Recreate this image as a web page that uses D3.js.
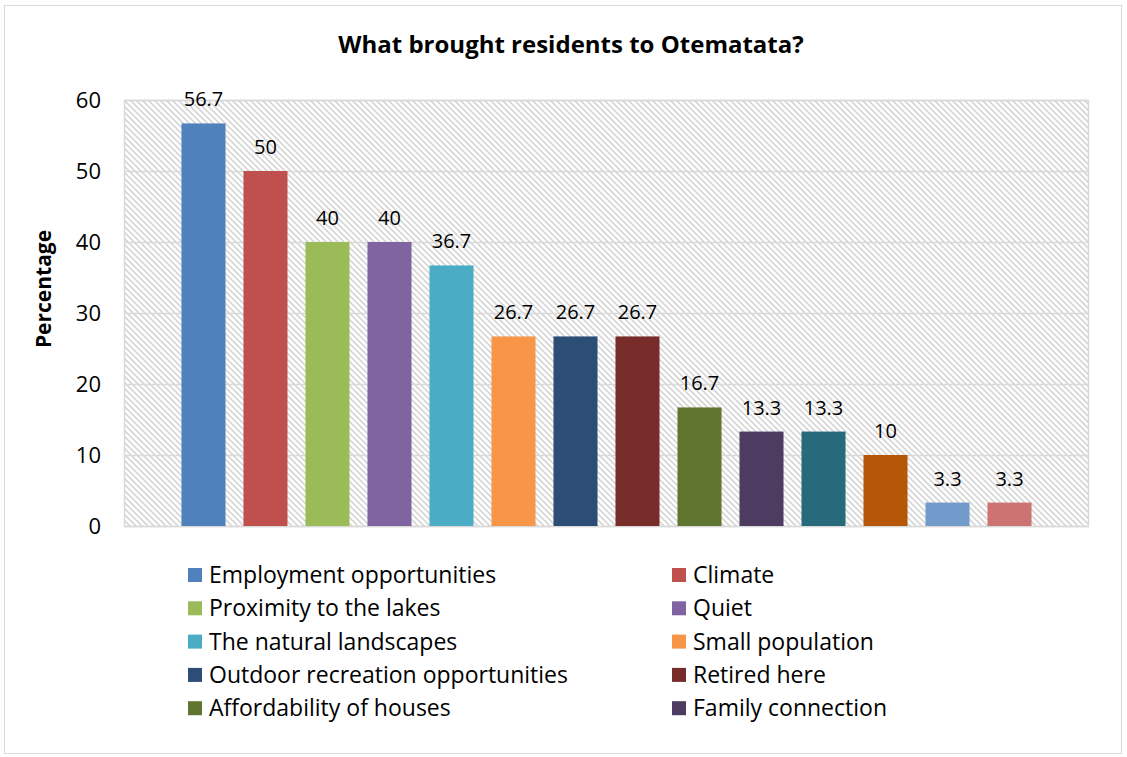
<!DOCTYPE html>
<html><head><meta charset="utf-8">
<script src="https://cdn.jsdelivr.net/npm/d3@7"></script>
<style>body{margin:0;background:#fff;} svg{display:block;} text{font-family:"Open Sans","Noto Sans",sans-serif;}</style>
</head><body>
<svg id="c" width="1127" height="757"></svg>
<script>
// The reference legend only shows the first 10 categories; the names of the last 4 bars are not visible,
// so they are kept as neutral placeholders (never displayed).
const categories = ["Employment opportunities","Climate","Proximity to the lakes","Quiet","The natural landscapes","Small population","Outdoor recreation opportunities","Retired here","Affordability of houses","Family connection","Unlabelled 11","Unlabelled 12","Unlabelled 13","Unlabelled 14"];
const values = [56.7,50,40,40,36.7,26.7,26.7,26.7,16.7,13.3,13.3,10,3.3,3.3];
const colors = ["#4F81BD","#C0504D","#9BBB59","#8064A2","#4BACC6","#F79646","#2C4D75","#772C2A","#5F7530","#4D3B62","#276A7C","#B65708","#729ACA","#CD7371"];
const yTicks = [0,10,20,30,40,50,60];
const legendShown = 10;

const svg = d3.select("#c");
svg.append("rect").attr("x",4.5).attr("y",5.5).attr("width",1117).attr("height",748).attr("fill","#fff").attr("stroke","#d9d9d9").attr("stroke-width",1);

const defs = svg.append("defs");
const pat = defs.append("pattern").attr("id","hatch").attr("patternUnits","userSpaceOnUse").attr("width",6).attr("height",6);
pat.append("rect").attr("width",6).attr("height",6).attr("fill","#fff");
pat.append("path").attr("d","M-1,-1 L7,7 M-1,5 L1,7 M5,-1 L7,1").attr("stroke","#d6d6d6").attr("stroke-width",1.6);

const L=124,R=1089,T=100,B=526;
const x = d3.scaleBand().domain(categories).range([L,R]).paddingInner(0.29).paddingOuter(0.927);
const y = d3.scaleLinear().domain([0,60]).range([B,T]);

svg.append("rect").attr("x",L).attr("y",T).attr("width",R-L).attr("height",B-T).attr("fill","url(#hatch)");
svg.append("g").selectAll("line").data(yTicks).join("line")
  .attr("x1",L).attr("x2",R).attr("y1",d=>y(d)+0.5).attr("y2",d=>y(d)+0.5).attr("stroke","#d9d9d9").attr("stroke-width",1.5);
svg.append("rect").attr("x",L+0.5).attr("y",T+0.5).attr("width",R-L-1).attr("height",B-T).attr("fill","none").attr("stroke","#d9d9d9").attr("stroke-width",1.5);

const yAxis = d3.axisLeft(y).tickValues(yTicks).tickSize(0).tickPadding(0);
const ga = svg.append("g").attr("transform",`translate(${L-23},0)`).call(yAxis);
ga.select(".domain").remove();
ga.selectAll("text").attr("font-size",22).attr("fill","#000").attr("font-family","'Open Sans',sans-serif").attr("dy","0.35em");

svg.append("g").selectAll("rect").data(categories).join("rect")
  .attr("x",d=>x(d)).attr("width",x.bandwidth())
  .attr("y",(d,i)=>y(values[i])).attr("height",(d,i)=>B-y(values[i]))
  .attr("fill",(d,i)=>colors[i]);

svg.append("g").selectAll("text").data(categories).join("text")
  .attr("x",d=>x(d)+x.bandwidth()/2).attr("y",(d,i)=>y(values[i])-17)
  .attr("text-anchor","middle").attr("font-size",20).attr("fill","#000")
  .text((d,i)=>values[i]);

svg.append("text").attr("x",571).attr("y",53).attr("text-anchor","middle").attr("font-size",24).attr("font-weight","bold").text("What brought residents to Otematata?");
svg.append("text").attr("transform","translate(51,289) rotate(-90)").attr("text-anchor","middle").attr("font-size",21).attr("font-weight","bold").text("Percentage");

const lg = svg.append("g");
categories.slice(0,legendShown).forEach((c,i)=>{
  const col=i%2,row=Math.floor(i/2);
  const gx = col===0?188:672, gy = 575+row*33.3;
  lg.append("rect").attr("x",gx).attr("y",gy-7).attr("width",14).attr("height",14).attr("fill",colors[i]);
  lg.append("text").attr("x",gx+21).attr("y",gy).attr("dy","0.35em").attr("font-size",23).attr("fill","#000").text(c);
});
</script>
</body></html>
